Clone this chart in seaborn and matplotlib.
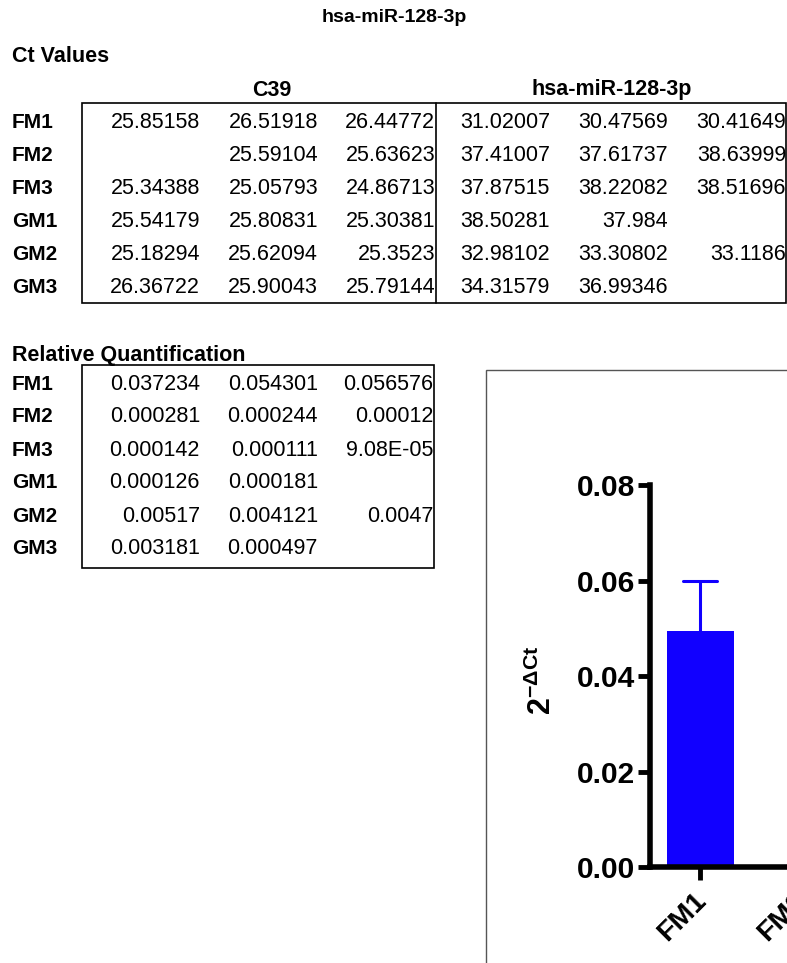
import matplotlib
matplotlib.use('Agg')
import matplotlib.pyplot as plt
import matplotlib.patches as mpatches
import matplotlib.transforms as mtransforms
from matplotlib.ticker import FormatStrFormatter
import pandas as pd
import seaborn as sns

# figure size in pixels (dpi 100)
W, H = 787, 963

# ---- data ----
samples = ['FM1', 'FM2', 'FM3', 'GM1', 'GM2', 'GM3']

# Ct values (as printed, '' = empty cell)
c39_ct = [
    ['25.85158', '26.51918', '26.44772'],
    ['', '25.59104', '25.63623'],
    ['25.34388', '25.05793', '24.86713'],
    ['25.54179', '25.80831', '25.30381'],
    ['25.18294', '25.62094', '25.3523'],
    ['26.36722', '25.90043', '25.79144'],
]
mir_ct = [
    ['31.02007', '30.47569', '30.41649'],
    ['37.41007', '37.61737', '38.63999'],
    ['37.87515', '38.22082', '38.51696'],
    ['38.50281', '37.984', ''],
    ['32.98102', '33.30802', '33.1186'],
    ['34.31579', '36.99346', ''],
]

# relative quantification 2^-dCt (as printed)
rq_values = [
    ['0.037234', '0.054301', '0.056576'],
    ['0.000281', '0.000244', '0.00012'],
    ['0.000142', '0.000111', '9.08E-05'],
    ['0.000126', '0.000181', ''],
    ['0.00517', '0.004121', '0.0047'],
    ['0.003181', '0.000497', ''],
]

yticks = [0.00, 0.02, 0.04, 0.06, 0.08]

BLUE = '#1100ff'

sns.set_theme(style='ticks')
plt.rcParams['font.family'] = ['Liberation Sans', 'DejaVu Sans']
plt.rcParams['mathtext.fontset'] = 'custom'
plt.rcParams['mathtext.rm'] = 'Liberation Sans'
plt.rcParams['mathtext.bf'] = 'Liberation Sans:bold'
for key in ['text.color', 'axes.labelcolor', 'axes.edgecolor', 'xtick.color', 'ytick.color']:
    plt.rcParams[key] = 'black'


def fx(x):
    return x / W


def fy(y):
    return 1 - y / H


def box(fig, x0, y0, x1, y1, color='black', lw=1.2):
    # rectangle given by pixel corners (top-left origin)
    rect = mpatches.Rectangle((fx(x0), fy(y1)), fx(x1) - fx(x0), fy(y0) - fy(y1),
                              transform=fig.transFigure, fill=False,
                              edgecolor=color, linewidth=lw, clip_on=False)
    fig.add_artist(rect)


def vline(fig, x, y0, y1, lw=1.2):
    fig.add_artist(plt.Line2D([fx(x), fx(x)], [fy(y0), fy(y1)], transform=fig.transFigure,
                              color='black', linewidth=lw))


fig = plt.figure(figsize=(W / 100, H / 100), dpi=100)

# title and section headings
fig.text(fx(394), fy(18), 'hsa-miR-128-3p', ha='center', va='center', fontsize=14, fontweight='bold')
fig.text(fx(12), fy(56), 'Ct Values', ha='left', va='center', fontsize=15.5, fontweight='bold')
fig.text(fx(272), fy(90), 'C39', ha='center', va='center', fontsize=15.5, fontweight='bold')
fig.text(fx(612), fy(90), 'hsa-miR-128-3p', ha='center', va='center', fontsize=15.5, fontweight='bold')

# Ct table
ct_rows = [123 + 32.8 * i for i in range(6)]
ct_cols = [200, 318, 435, 550, 668, 786]
for i, s in enumerate(samples):
    fig.text(fx(12), fy(ct_rows[i]), s, ha='left', va='center', fontsize=15, fontweight='bold')
    for j, v in enumerate(c39_ct[i] + mir_ct[i]):
        fig.text(fx(ct_cols[j]), fy(ct_rows[i]), v, ha='right', va='center', fontsize=15.5)
box(fig, 82, 103, 786, 303)
vline(fig, 436, 103, 303)

# Relative quantification table
fig.text(fx(12), fy(355), 'Relative Quantification', ha='left', va='center', fontsize=15.5, fontweight='bold')
rq_rows = [384 + 33 * i for i in range(6)]
rq_cols = [200, 318, 433]
for i, s in enumerate(samples):
    fig.text(fx(12), fy(rq_rows[i]), s, ha='left', va='center', fontsize=15, fontweight='bold')
    for j, v in enumerate(rq_values[i]):
        fig.text(fx(rq_cols[j]), fy(rq_rows[i]), v, ha='right', va='center', fontsize=15.5)
box(fig, 82, 365, 434, 568)

# frame around the graph (runs off the page)
box(fig, 486, 370, 900, 1100, color='#555555', lw=1.0)

# bar chart of 2^-dCt, mean + SD
rows = []
for s, vals in zip(samples, rq_values):
    for v in vals:
        if v:
            rows.append({'sample': s, 'rq': float(v)})
df = pd.DataFrame(rows)

ax = fig.add_axes([fx(650), fy(867), 600 / W, 382 / H])
sns.barplot(data=df, x='sample', y='rq', order=samples, errorbar='sd', color=BLUE,
            saturation=1, width=0.67, capsize=0.34, linewidth=0,
            err_kws={'color': BLUE, 'linewidth': 2.2}, ax=ax)
ax.set_xlim(-0.5, 5.5)
ax.set_ylim(0, 0.08)
ax.set_yticks(yticks)
ax.yaxis.set_major_formatter(FormatStrFormatter('%.2f'))
ax.set_xlabel('')
ax.set_ylabel(r'$\mathbf{2^{-\Delta Ct}}$', fontsize=22)
ax.yaxis.set_label_coords(-0.153, 0.49)
sns.despine(ax=ax)
for sp in ['left', 'bottom']:
    ax.spines[sp].set_linewidth(4)
ax.tick_params(axis='both', length=9, width=3.5)
ax.tick_params(axis='y', pad=1.5, labelsize=21.5)
ax.tick_params(axis='x', pad=6, labelsize=20.5)
for lab in ax.get_yticklabels():
    lab.set_fontweight('bold')
shift = mtransforms.ScaledTranslation(-7 / 100, 0, fig.dpi_scale_trans)
for lab in ax.get_xticklabels():
    lab.set_fontweight('bold')
    lab.set_rotation(45)
    lab.set_ha('right')
    lab.set_rotation_mode('anchor')
    lab.set_transform(lab.get_transform() + shift)

fig.savefig('out.png', dpi=100)
